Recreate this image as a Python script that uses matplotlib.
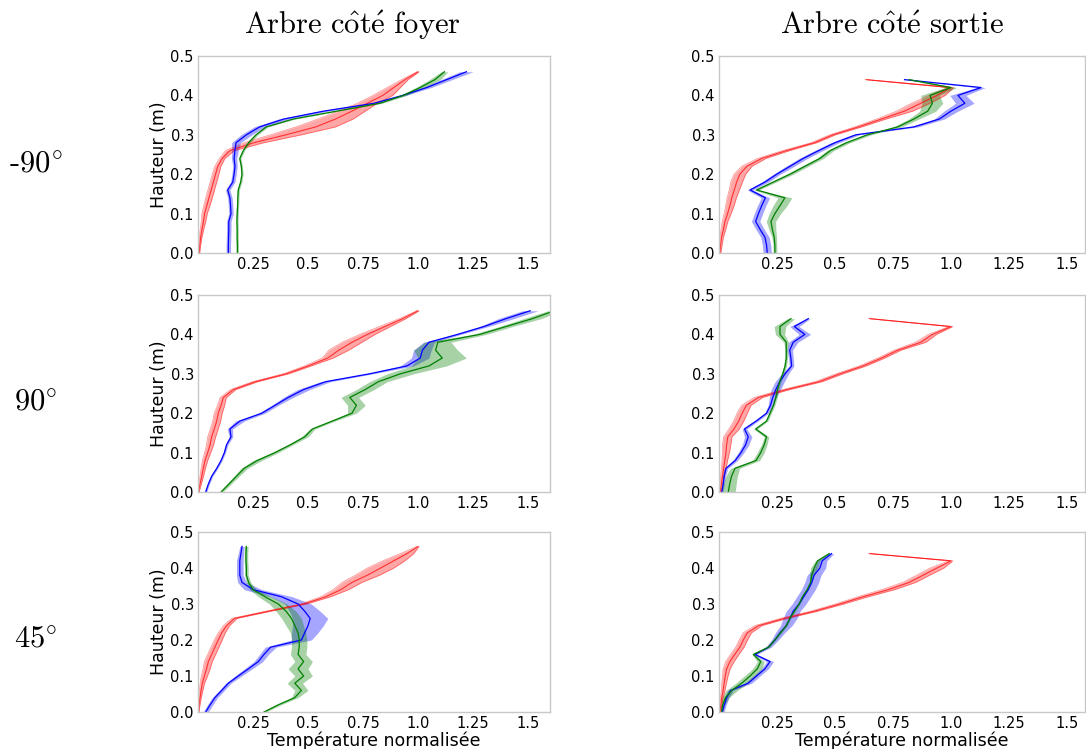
import numpy as np
import matplotlib
matplotlib.use("Agg")
import matplotlib.pyplot as plt

plt.rcParams['mathtext.fontset'] = 'cm'

# hauteurs de mesure (m)
h_gauche = [0.00, 0.02, 0.04, 0.06, 0.08, 0.10, 0.12, 0.14, 0.16, 0.18, 0.20, 0.22,
            0.24, 0.26, 0.28, 0.30, 0.32, 0.34, 0.36, 0.38, 0.40, 0.42, 0.44, 0.46]
h_droite = [0.00, 0.02, 0.04, 0.06, 0.08, 0.10, 0.12, 0.14, 0.16, 0.18, 0.20, 0.22,
            0.24, 0.26, 0.28, 0.30, 0.32, 0.34, 0.36, 0.38, 0.40, 0.42, 0.44]

titres_col = [r'$\mathrm{Arbre\ c\hat{o}t\acute{e}\ foyer}$', r'$\mathrm{Arbre\ c\hat{o}t\acute{e}\ sortie}$']
titres_lig = ['-90$^{\\circ}$', '90$^{\\circ}$', '45$^{\\circ}$']
xticks = [0.25, 0.5, 0.75, 1.0, 1.25, 1.5]
xtick_labels = ['0.25', '0.5', '0.75', '1.0', '1.25', '1.5']
yticks = [0.0, 0.1, 0.2, 0.3, 0.4, 0.5]

# -90 deg, côté foyer : moyenne et demi-largeur de bande
tl_rouge = [.005, .008, .012, .018, .025, .03, .04, .05, .06, .07, .08, .09, .11, .145, .255, .40, .535, .625, .70, .77, .84, .89, .94, 1.0]
tl_rouge_w = [.003, .004, .006, .008, .01, .012, .014, .015, .015, .015, .015, .014, .012, .02, .045, .07, .09, .08, .06, .045, .045, .03, .015, .005]
tl_bleu = [.138, .138, .139, .14, .14, .15, .148, .145, .135, .158, .164, .168, .164, .168, .173, .22, .28, .39, .57, .80, .93, 1.04, 1.13, 1.22]
tl_bleu_w = [.01, .01, .01, .01, .01, .01, .01, .01, .01, .01, .01, .01, .012, .015, .02, .025, .025, .025, .02, .015, .015, .02, .025, .03]
tl_vert = [.179, .179, .178, .178, .177, .178, .18, .181, .183, .194, .20, .197, .19, .206, .23, .264, .31, .433, .63, .827, .933, 1.01, 1.077, 1.12]
tl_vert_w = [.005, .005, .005, .005, .005, .005, .005, .005, .005, .005, .005, .005, .005, .006, .008, .008, .008, .008, .008, .01, .015, .02, .025, .015]

# -90 deg, côté sortie
tr_rouge = [.004, .007, .011, .019, .026, .037, .047, .055, .066, .076, .09, .12, .184, .29, .41, .49, .60, .70, .80, .87, .94, 1.0, .635]
tr_rouge_w = [.004, .006, .008, .01, .012, .015, .018, .02, .022, .025, .025, .022, .018, .015, .012, .012, .015, .02, .035, .04, .035, .012, .005]
tr_bleu = [.208, .205, .198, .177, .158, .17, .184, .20, .134, .198, .249, .306, .363, .43, .50, .59, .84, .95, 1.0, 1.06, 1.03, 1.13, .80]
tr_bleu_w = [.018, .018, .018, .018, .018, .018, .018, .018, .012, .015, .015, .018, .018, .018, .018, .015, .018, .022, .03, .04, .035, .018, .005]
tr_vert = [.241, .241, .238, .23, .224, .241, .263, .284, .162, .234, .306, .37, .435, .48, .55, .64, .77, .84, .90, .92, .91, 1.0, .82]
tr_vert_w = [.008, .008, .01, .015, .02, .025, .03, .03, .01, .012, .015, .015, .015, .015, .015, .015, .018, .022, .035, .045, .04, .025, .005]

# 90 deg, côté foyer
ml_rouge = [.002, .009, .017, .024, .032, .044, .055, .062, .074, .085, .092, .105, .115, .16, .26, .40, .50, .59, .64, .70, .77, .85, .93, 1.0]
ml_rouge_w = [.003, .006, .008, .01, .012, .014, .016, .018, .018, .018, .018, .016, .014, .012, .012, .012, .015, .025, .045, .045, .035, .025, .015, .005]
ml_bleu = [.035, .047, .062, .085, .105, .12, .13, .15, .145, .19, .29, .35, .41, .48, .58, .78, .95, 1.01, 1.02, 1.05, 1.18, 1.30, 1.40, 1.51]
ml_bleu_w = [.005, .005, .005, .005, .005, .005, .006, .008, .012, .02, .015, .015, .022, .028, .022, .015, .03, .04, .04, .025, .015, .02, .035, .035]
ml_vert = [.105, .14, .175, .21, .27, .35, .42, .485, .52, .61, .70, .72, .69, .76, .82, .92, 1.05, 1.11, 1.08, 1.09, 1.28, 1.40, 1.52, 1.62]
ml_vert_w = [.008, .01, .012, .015, .02, .015, .012, .015, .012, .012, .02, .04, .04, .04, .04, .06, .08, .11, .10, .06, .03, .03, .04, .03]

# 90 deg, côté sortie
mr_rouge = [.005, .01, .015, .02, .025, .03, .033, .038, .065, .085, .10, .118, .17, .29, .43, .52, .62, .70, .77, .87, .92, 1.0, .65]
mr_rouge_w = [.004, .006, .008, .01, .012, .015, .018, .018, .022, .022, .022, .02, .018, .015, .015, .015, .015, .015, .015, .022, .018, .008, .005]
mr_bleu = [.012, .018, .022, .03, .07, .095, .115, .126, .11, .16, .205, .222, .232, .245, .262, .285, .313, .31, .305, .32, .37, .325, .385]
mr_bleu_w = [.005, .005, .006, .008, .01, .012, .014, .016, .01, .008, .008, .01, .015, .02, .02, .015, .01, .01, .012, .02, .025, .02, .008]
mr_vert = [.04, .046, .054, .069, .16, .18, .195, .205, .158, .205, .22, .235, .245, .252, .262, .275, .285, .29, .29, .29, .263, .263, .31]
mr_vert_w = [.03, .028, .025, .02, .015, .015, .012, .01, .008, .006, .006, .006, .006, .006, .006, .006, .006, .006, .006, .01, .02, .025, .015]

# 45 deg, côté foyer
bl_rouge = [.002, .005, .009, .014, .02, .029, .039, .047, .062, .077, .092, .108, .13, .165, .32, .48, .58, .65, .70, .77, .83, .89, .95, 1.0]
bl_rouge_w = [.003, .004, .006, .008, .01, .014, .016, .018, .018, .018, .018, .016, .014, .012, .012, .014, .022, .035, .045, .055, .06, .05, .03, .005]
bl_bleu = [.035, .055, .077, .108, .138, .183, .229, .274, .30, .33, .47, .485, .50, .51, .485, .455, .38, .25, .20, .19, .19, .19, .195, .20]
bl_bleu_w = [.012, .012, .012, .012, .012, .015, .018, .02, .02, .025, .045, .06, .07, .08, .07, .06, .05, .04, .02, .015, .015, .015, .012, .01]
bl_vert = [.30, .365, .44, .47, .44, .48, .455, .48, .455, .46, .46, .455, .44, .425, .40, .365, .305, .25, .23, .22, .22, .218, .218, .22]
bl_vert_w = [.01, .012, .015, .03, .035, .04, .045, .04, .035, .035, .035, .035, .04, .045, .045, .04, .03, .015, .01, .008, .008, .008, .008, .008]

# 45 deg, côté sortie
br_rouge = [.004, .008, .012, .018, .022, .027, .033, .047, .068, .09, .105, .122, .17, .28, .41, .52, .62, .73, .82, .88, .94, 1.0, .65]
br_rouge_w = [.004, .005, .006, .008, .01, .012, .015, .018, .018, .018, .018, .018, .015, .015, .015, .018, .022, .028, .028, .028, .03, .008, .005]
br_bleu = [.014, .023, .033, .05, .126, .162, .198, .22, .155, .213, .241, .263, .29, .306, .32, .345, .365, .385, .40, .41, .435, .445, .485]
br_bleu_w = [.008, .008, .01, .012, .015, .015, .015, .015, .008, .012, .015, .02, .025, .03, .03, .03, .03, .03, .03, .03, .025, .02, .01]
br_vert = [.011, .016, .028, .055, .098, .134, .165, .18, .148, .213, .24, .265, .29, .305, .325, .345, .36, .38, .395, .40, .41, .425, .475]
br_vert_w = [.005, .008, .015, .025, .025, .025, .02, .015, .005, .005, .005, .005, .005, .005, .005, .005, .005, .005, .005, .01, .015, .01, .005]

panneaux = [
    [(tl_rouge, tl_rouge_w, tl_bleu, tl_bleu_w, tl_vert, tl_vert_w, h_gauche),
     (tr_rouge, tr_rouge_w, tr_bleu, tr_bleu_w, tr_vert, tr_vert_w, h_droite)],
    [(ml_rouge, ml_rouge_w, ml_bleu, ml_bleu_w, ml_vert, ml_vert_w, h_gauche),
     (mr_rouge, mr_rouge_w, mr_bleu, mr_bleu_w, mr_vert, mr_vert_w, h_droite)],
    [(bl_rouge, bl_rouge_w, bl_bleu, bl_bleu_w, bl_vert, bl_vert_w, h_gauche),
     (br_rouge, br_rouge_w, br_bleu, br_bleu_w, br_vert, br_vert_w, h_droite)],
]

W, H = 1086, 749
fig = plt.figure(figsize=(W / 100, H / 100), dpi=100)

# positions en pixels (gauche, droite, xmax) et (haut, bas)
cols = [(198, 550, 1.6), (719, 1085, 1.578)]
lignes = [(56, 253), (295, 492), (532, 712)]

for i, (y_haut, y_bas) in enumerate(lignes):
    for j, (x_g, x_d, xmax) in enumerate(cols):
        ax = fig.add_axes([x_g / W, 1 - y_bas / H, (x_d - x_g) / W, (y_bas - y_haut) / H])
        r, rw, b, bw, g, gw, hh = panneaux[i][j]
        hh = np.array(hh)
        for v, w, c in [(r, rw, 'red'), (b, bw, 'blue'), (g, gw, 'green')]:
            v = np.array(v)
            w = np.array(w)
            lo = np.clip(v - w, 0, None)
            ax.fill_betweenx(hh, lo, v + w, color=c, alpha=0.35, lw=0)
            if c == 'red':
                # les essais rouges se voient en fins traits
                ax.plot(lo, hh, color=c, lw=0.5, alpha=0.45)
                ax.plot(v + w, hh, color=c, lw=0.5, alpha=0.45)
                ax.plot(v, hh, color=c, lw=0.8, alpha=0.7)
            else:
                ax.plot(v, hh, color=c, lw=0.9)
        ax.set_xlim(0, xmax)
        ax.set_ylim(0, 0.5)
        ax.set_xticks(xticks)
        ax.set_xticklabels(xtick_labels)
        ax.set_yticks(yticks)
        ax.set_yticklabels(['%.1f' % t for t in yticks])
        ax.tick_params(length=0, labelsize=10.5, pad=3)
        for s in ax.spines.values():
            s.set_color('#c8c8c8')
            s.set_linewidth(1)
        if j == 0:
            ax.set_ylabel('Hauteur (m)', fontsize=12.5, labelpad=2)
        if i == 2:
            ax.set_xlabel('Température normalisée', fontsize=12.5, labelpad=0)

# titres de colonnes et de lignes
fig.text(352 / W, 1 - 25 / H, titres_col[0], fontsize=22, ha='center', va='center')
fig.text(892 / W, 1 - 25 / H, titres_col[1], fontsize=22, ha='center', va='center')
for k, y in enumerate([165, 403, 640]):
    fig.text(36 / W, 1 - y / H, titres_lig[k], fontsize=22, ha='center', va='center', family='cmr10')

fig.savefig('out.png', dpi=100)
